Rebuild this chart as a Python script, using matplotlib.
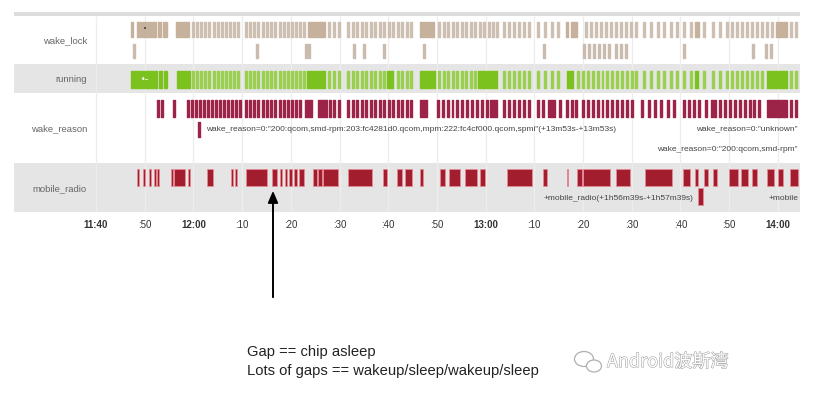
import matplotlib
matplotlib.use("Agg")
import matplotlib.pyplot as plt
import matplotlib.patheffects as pe
from matplotlib.patches import Ellipse

# =====================================================
# DATA  (times are minutes after 11:40)
# =====================================================

tick_minutes = [0, 10, 20, 30, 40, 50, 60, 70, 80, 90, 100, 110, 120, 130, 140]
tick_labels = ["11:40", ":50", "12:00", ":10", ":20", ":30", ":40", ":50",
               "13:00", ":10", ":20", ":30", ":40", ":50", "14:00"]

row_names = ["wake_lock", "running", "wake_reason", "mobile_radio"]

wake_lock_blocks = [(7.2, 7.7), (8.4, 12.3), (12.7, 13.3), (13.8, 14.6),
                    (16.4, 19.1), (43.5, 47.0), (66.5, 69.4), (96.5, 97.0),
                    (97.6, 98.8), (123.0, 123.8), (139.6, 141.9)]
wake_lock_thin = [19.7, 20.5, 21.4, 22.2, 23.0, 24.0, 24.8, 25.7, 26.5, 27.3, 28.1, 29.0,
                  30.6, 31.4, 32.2, 33.1, 34.1, 34.9, 35.7, 36.6, 37.6, 38.4, 39.2, 40.0,
                  40.9, 41.7, 42.5, 47.6, 48.7, 49.7,
                  51.5, 52.6, 53.4, 54.4, 55.2, 56.3, 57.1, 58.1, 58.9, 60.0, 60.8, 61.8,
                  62.6, 63.7, 64.5,
                  70.2, 71.3, 72.1, 73.1, 73.9, 74.9, 75.8, 76.8, 77.6, 78.6, 79.5, 80.5,
                  81.3, 82.1, 83.6, 84.6, 85.6, 86.7, 87.7, 88.7, 90.6, 92.0, 93.4, 94.7,
                  100.4, 101.4, 102.5, 103.5, 104.5, 105.5, 106.6, 107.6, 108.6, 109.7,
                  110.7, 112.3, 113.8, 115.2, 116.4, 117.9, 119.1, 120.5, 122.0, 124.6,
                  126.5, 127.9, 129.4, 130.4, 131.4, 132.4, 133.5, 134.5, 135.5, 136.6,
                  137.6, 138.6, 142.5, 143.5]
wake_lock_second = [7.6, 32.9, 42.9, 43.5, 52.8, 54.8, 58.9, 67.1, 91.8, 100.0, 101.0,
                    102.1, 103.1, 104.1, 105.1, 106.6, 107.6, 108.6, 120.5, 134.7,
                    137.4, 138.4]

running_blocks = [(7.2, 12.5), (12.9, 13.6), (14.0, 14.6), (16.6, 19.3), (43.3, 47.0),
                  (59.8, 61.0), (66.5, 69.6), (78.4, 79.5), (79.5, 82.3), (96.7, 97.9),
                  (122.9, 123.7), (137.8, 141.9)]
running_thin = [19.7, 20.5, 21.4, 22.2, 23.0, 24.0, 24.8, 25.7, 26.5, 27.3, 28.1, 29.0,
                30.6, 31.4, 32.2, 33.1, 34.1, 34.9, 35.7, 36.6, 37.6, 38.4, 39.2, 40.0,
                40.9, 41.7, 42.5, 47.6, 48.7, 49.7,
                51.5, 52.6, 53.4, 54.4, 55.2, 56.3, 57.1, 58.1, 58.9, 61.8, 62.6, 63.7,
                64.5, 70.2, 71.3, 72.1, 73.1, 73.9, 74.9, 75.8, 76.8, 77.6,
                83.6, 84.6, 85.6, 86.7, 87.7, 88.7, 90.6, 92.0, 93.4, 94.7,
                98.8, 99.8, 100.8, 101.8, 102.8, 103.8, 104.8, 105.8, 106.8, 107.8,
                108.8, 109.8, 110.7, 112.3, 113.8, 115.2, 116.4, 117.9, 119.1, 120.5,
                122.0, 124.6, 126.5, 127.9, 129.4, 130.4, 131.4, 132.4, 133.5, 134.5,
                135.5, 136.6, 142.5, 143.5]

wake_reason_blocks = [(12.5, 12.9), (13.3, 13.8), (15.8, 16.2), (43.0, 44.4),
                      (45.6, 47.4), (66.5, 68.0), (80.9, 82.3), (92.8, 94.2),
                      (137.8, 141.9)]
wake_reason_thin = [18.7, 19.5, 20.3, 21.2, 22.0, 22.8, 23.6, 24.4, 25.3, 26.1, 26.9,
                    27.7, 28.5, 29.4, 30.6, 31.4, 32.2, 33.1, 34.1, 34.9, 35.7, 36.6,
                    37.6, 38.4, 39.2, 40.0, 40.9, 41.7, 47.8, 48.7, 49.7,
                    51.5, 52.6, 53.4, 54.4, 55.2, 56.3, 57.1, 58.1, 58.9, 60.0, 60.8,
                    61.8, 62.6, 63.7, 64.5, 70.0, 71.0, 72.0, 73.0, 74.0, 75.0, 76.0,
                    77.0, 78.0, 79.0, 80.0, 83.6, 84.6, 85.6, 86.7, 87.7, 88.7,
                    90.6, 91.5, 95.0, 96.5, 97.5, 98.4, 99.8, 100.8, 101.8, 102.8,
                    103.8, 104.8, 105.8, 106.8, 107.8, 108.8, 109.8, 112.0, 113.3,
                    114.6, 115.9, 117.2, 118.5, 120.5, 121.6, 122.6, 123.6, 125.0,
                    126.2, 127.0, 128.0, 129.0, 130.0, 131.0, 132.0, 133.0, 134.0,
                    135.0, 136.0, 142.5, 143.5]
wake_reason_event = 20.9

mobile_radio_blocks = [(8.4, 8.8), (9.7, 10.1), (10.9, 11.3), (11.9, 12.3), (12.5, 12.9),
                       (15.4, 15.8), (16.0, 18.3), (18.9, 19.3), (22.8, 24.0),
                       (27.7, 28.1), (28.5, 29.0), (30.8, 35.1), (36.1, 37.2),
                       (37.8, 38.2), (38.8, 39.2), (39.6, 40.2), (40.7, 41.3),
                       (41.7, 42.7), (44.6, 45.4), (45.6, 46.4), (46.6, 49.7),
                       (51.7, 56.7), (58.9, 59.8), (61.8, 62.8), (63.4, 64.9),
                       (66.5, 67.1), (70.6, 71.7), (72.5, 74.7), (75.8, 78.2),
                       (78.9, 79.9), (84.4, 89.5), (91.8, 92.6), (96.7, 96.9),
                       (98.8, 99.8), (100.0, 105.5), (106.8, 109.7), (112.7, 118.3),
                       (120.5, 122.0), (123.0, 123.6), (124.8, 125.7), (126.7, 127.5),
                       (130.0, 131.8), (132.4, 133.9), (134.7, 135.7), (137.8, 139.2),
                       (140.0, 141.1), (142.5, 144.1)]
mobile_radio_event = (123.6, 124.6)

# =====================================================
# STYLE
# =====================================================

FONT = "Liberation Sans"
PX_PER_MIN = 4.87
LEFT_PX, ZERO_PX, RIGHT_PX = 14, 96, 800
THIN = 0.4

GRAY_ROW = "#e5e5e5"
TAN = "#c6b29c"
TAN_THIN = "#cdbfb1"
GREEN = "#7cc21e"
GREEN_THIN = "#9bcf4f"
WINE = "#9c2449"
RADIO = "#a21d2d"
RADIO_EDGE = "#e58a95"

# row spans in pixel units (top, bottom)
rows = {
    "wake_lock": (16, 64),
    "running": (64, 93),
    "wake_reason": (93, 163),
    "mobile_radio": (163, 212),
}

fig = plt.figure(figsize=(8.13, 3.97), dpi=100)

ax = fig.add_axes([LEFT_PX / 813, 1 - 212 / 397,
                   (RIGHT_PX - LEFT_PX) / 813, 200 / 397])
ax.set_xlim((LEFT_PX - ZERO_PX) / PX_PER_MIN, (RIGHT_PX - ZERO_PX) / PX_PER_MIN)
ax.set_ylim(212, 12)
for s in ax.spines.values():
    s.set_visible(False)

# backgrounds
ax.axhspan(12, 16, color="#dcdcdc", lw=0, zorder=0)
ax.axhspan(*rows["running"], color=GRAY_ROW, lw=0, zorder=0)
ax.axhspan(*rows["mobile_radio"], color=GRAY_ROW, lw=0, zorder=0)
ax.vlines(tick_minutes, 16, 212, colors="#ededed", lw=0.9, zorder=1)

# row labels
label_x = (87 - ZERO_PX) / PX_PER_MIN
for name in row_names:
    top, bot = rows[name]
    ax.text(label_x, (top + bot) / 2 + 1, name, ha="right", va="center",
            fontsize=6.8, family=FONT, color="#666666")


def thin_ranges(starts):
    return [(s, THIN) for s in starts]


def block_ranges(blocks):
    return [(a, b - a) for a, b in blocks]


# wake_lock
ax.broken_barh(block_ranges(wake_lock_blocks), (22, 15), color=TAN, zorder=2)
ax.broken_barh(thin_ranges(wake_lock_thin), (22, 15), color=TAN_THIN, zorder=2)
ax.broken_barh(thin_ranges(wake_lock_second), (44, 14), color="#c9bcae", zorder=2)
ax.text(10.1, 29, "\u2022", ha="center", va="center", fontsize=5, color="#4a3a2a",
        zorder=3)

# running
ax.broken_barh(block_ranges(running_blocks), (71, 17), color=GREEN, zorder=2)
ax.broken_barh(thin_ranges(running_thin), (71, 17), color=GREEN_THIN, zorder=2)
ax.text(10.0, 79, "\u2022\u2013", ha="center", va="center", fontsize=5.5,
        color="white", zorder=3)

# wake_reason
ax.broken_barh(block_ranges(wake_reason_blocks), (100, 17), color=WINE, zorder=2)
ax.broken_barh(thin_ranges(wake_reason_thin), (100, 17), color=WINE, zorder=2)
ax.broken_barh([(wake_reason_event, 0.4)], (122, 15), color=WINE, zorder=2)
ax.text(22.6, 129.5,
        'wake_reason=0:"200:qcom,smd-rpm:203:fc4281d0.qcom,mpm:222:fc4cf000.qcom,spmi"'
        '(+13m53s-+13m53s)',
        ha="left", va="center", fontsize=6.0, family=FONT, color="#444444")
ax.text((798 - ZERO_PX) / PX_PER_MIN, 128.5, 'wake_reason=0:"unknown"',
        ha="right", va="center", fontsize=6.0, family=FONT, color="#444444")
ax.text((798 - ZERO_PX) / PX_PER_MIN, 150, 'wake_reason=0:"200:qcom,smd-rpm"',
        ha="right", va="center", fontsize=6.0, family=FONT, color="#444444")

# mobile_radio
ax.broken_barh(block_ranges(mobile_radio_blocks), (169, 17), facecolor=RADIO,
               edgecolor=RADIO_EDGE, lw=0.6, zorder=2)
ax.broken_barh(block_ranges([mobile_radio_event]), (188, 17), facecolor=RADIO,
               edgecolor=RADIO_EDGE, lw=0.6, zorder=2)
ax.text(mobile_radio_event[0] - 1.0, 199, "+mobile_radio(+1h56m39s-+1h57m39s)",
        ha="right", va="center", fontsize=6.0, family=FONT, color="#444444")
ax.text((798 - ZERO_PX) / PX_PER_MIN, 199, "+mobile", ha="right", va="center",
        fontsize=6.0, family=FONT, color="#444444")

# time axis
ax.set_yticks([])
ax.set_xticks(tick_minutes)
ax.set_xticklabels(tick_labels)
ax.tick_params(axis="x", length=0, pad=6)
for lab in ax.get_xticklabels():
    lab.set_fontfamily(FONT)
    lab.set_fontsize(7)
    lab.set_color("#333333")
    if not lab.get_text().startswith(":"):
        lab.set_fontweight("bold")

# arrow pointing at the gaps
arrow_x = (273 - ZERO_PX) / PX_PER_MIN
ax.annotate("", xy=(arrow_x, 188), xytext=(arrow_x, 300),
            arrowprops=dict(arrowstyle="-|>,head_length=0.7,head_width=0.3",
                            color="black", lw=1.4, mutation_scale=10),
            annotation_clip=False, zorder=5)

# =====================================================
# CAPTION + WATERMARK (pixel overlay)
# =====================================================

ov = fig.add_axes([0, 0, 1, 1], zorder=-1)
ov.set_xlim(0, 813)
ov.set_ylim(397, 0)
ov.axis("off")

ov.text(247, 352, "Gap == chip asleep", ha="left", va="center",
        fontsize=10.6, family=FONT, color="#222222")
ov.text(247, 371, "Lots of gaps == wakeup/sleep/wakeup/sleep", ha="left",
        va="center", fontsize=10.6, family=FONT, color="#222222")

ov.add_patch(Ellipse((584, 359), 19, 15, facecolor="white", edgecolor="#b0b0b0",
                     lw=0.9))
ov.add_patch(Ellipse((594, 366), 15, 12, facecolor="white", edgecolor="#b0b0b0",
                     lw=0.9))
ov.text(607, 362, "Android波斯湾", ha="left", va="center", fontsize=13,
        family=["Noto Sans CJK SC", "DejaVu Sans"], color="white",
        path_effects=[pe.withStroke(linewidth=0.8, foreground="#a5a5a5")])

fig.savefig("out.png", dpi=100, facecolor="white")
plt.close(fig)
